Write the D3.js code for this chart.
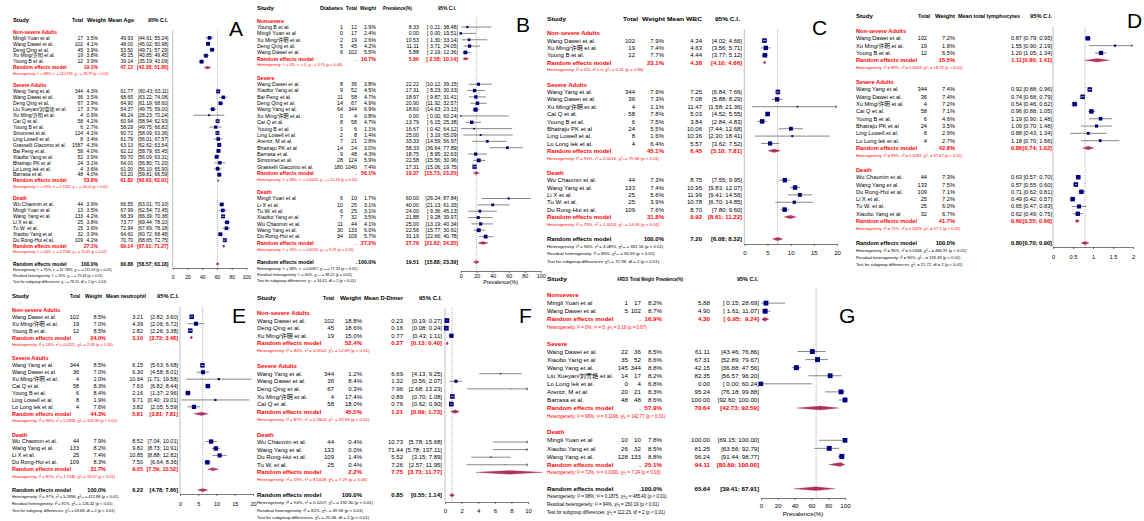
<!DOCTYPE html>
<html>
<head>
<meta charset="utf-8">
<script src="https://cdn.jsdelivr.net/npm/d3@7"></script>
<style>
  body { margin: 0; background: #fff; }
  svg text { font-family: "Liberation Sans", Arial, "Noto Sans CJK SC", sans-serif; white-space: pre; }
</style>
</head>
<body>
<script>
// ---------- A: mean age ----------
const ageHead = ["Study", "Total", "Weight", "Mean Age", "95% C.I."];
const ageGroups = ["Non-severe Adults", "Severe Adults", "Death"];
const ageNonSevere = [
    ["Mingli Yuan et al", 17, 3.5, 49.93, 44.61, 55.24],
    ["Wang Dawei et al.", 102, 4.1, 48.00, 45.02, 50.98],
    ["Deng Qing et al.", 45, 3.9, 53.50, 49.71, 57.29],
    ["Xu Ming/许明 et al.", 19, 3.8, 45.15, 40.85, 49.45],
    ["Young B et al.", 12, 3.9, 39.14, 35.19, 43.09]
];
const ageSevere = [
    ["Wang Yang et al.", 344, 4.3, 61.77, 60.43, 63.11],
    ["Wang Dawei et al.", 36, 3.5, 68.65, 63.22, 74.08],
    ["Deng Qing et al.", 67, 3.9, 64.90, 61.19, 68.60],
    ["Liu Xueyan/刘雪艳 et al.", 17, 3.7, 54.37, 49.75, 59.00],
    ["Xu Ming/许明 et al.", 4, 0.9, 49.24, 28.23, 70.24],
    ["Cai Q et al.", 58, 4.2, 60.94, 58.94, 62.93],
    ["Young B et al.", 6, 2.7, 58.29, 49.75, 66.82],
    ["Simonnet et al.", 124, 4.1, 60.72, 58.09, 63.36],
    ["Ling Lowell et al.", 8, 3.4, 61.79, 56.01, 67.57],
    ["Grasselli Giacomo et al.", 1587, 4.3, 63.13, 62.62, 63.64],
    ["Bai Peng et al.", 58, 4.0, 62.12, 58.79, 65.45],
    ["Xiaobo Yang et al", 52, 3.9, 59.70, 56.09, 63.31],
    ["Bhatraju PK et al", 24, 3.1, 64.00, 56.80, 71.20],
    ["Lo Long lek et al.", 4, 3.6, 61.00, 56.10, 65.90],
    ["Barrasa et al.", 48, 4.0, 63.20, 59.81, 66.59]
];
const ageDeath = [
    ["Wu Chaomin et al.", 44, 3.9, 66.55, 63.01, 70.10],
    ["Mingli Yuan et al", 13, 3.5, 67.99, 62.54, 73.45],
    ["Wang Yang et al.", 133, 4.2, 68.39, 66.39, 70.38],
    ["Li X et al.", 25, 3.8, 73.77, 69.44, 78.10],
    ["Tu W. et al.", 25, 3.6, 72.94, 67.69, 78.18],
    ["Xiaobo Yang et al", 32, 3.9, 64.60, 60.72, 68.48],
    ["Du Rong-Hui et al.", 109, 4.2, 70.70, 68.65, 72.75]
];
const ageRandom = [[19.1, 47.12, 42.38, 51.86], [53.8, 61.82, 60.63, 63.01], [27.1, 69.14, 67.01, 71.27]];
const ageOverall = [100.0, 60.88, 58.57, 63.18];
const ageHet = [
    "Heterogeneity: I² = 88%, τ² = 24.0739, χ²₄ = 28.79 (p < 0.01)",
    "Heterogeneity: I² = 59%, τ² = 2.1432, χ²₁₄ = 34.02 (p < 0.01)",
    "Heterogeneity: I² = 54%, τ² = 4.7548, χ²₆ = 15.65 (p = 0.02)"
];
const ageTests = [
    "Heterogeneity: I² = 95%, τ² = 31.7895, χ²₂₆ = 511.53 (p < 0.01)",
    "Residual heterogeneity: I² = 70%, χ²₂₄ = 79.43 (p < 0.01)",
    "Test for subgroup differences: χ²₂ = 78.74, df = 2 (p < 0.01)"
];
const ageTicks = [0, 20, 40, 60, 80, 100];

// ---------- B: diabetes prevalence ----------
const diabHead = ["Study", "Diabetes", "Total", "Weight", "Prevalence(%)", "95% C.I."];
const diabGroups = ["Nonsevere", "Severe", "Death"];
const diabNonsevere = [
    ["Young B et al.", 1, 12, 1.9, 8.33, 0.21, 38.48],
    ["Mingli Yuan et al", 0, 17, 2.4, 0.00, 0.00, 19.51],
    ["Xu Ming/许明 et al.", 2, 19, 2.6, 10.53, 1.30, 33.14],
    ["Deng Qing et al.", 5, 45, 4.2, 11.11, 3.71, 24.05],
    ["Wang Dawei et al.", 6, 102, 5.5, 5.88, 2.19, 12.36]
];
const diabSevere = [
    ["Wang Dawei et al.", 8, 36, 3.8, 22.22, 10.12, 39.15],
    ["Xiaobo Yang et al", 9, 52, 4.5, 17.31, 8.23, 30.33],
    ["Bai Peng et al.", 11, 58, 4.7, 18.97, 9.87, 31.41],
    ["Deng Qing et al.", 14, 67, 4.9, 20.90, 11.92, 32.57],
    ["Wang Yang et al.", 64, 344, 6.9, 18.60, 14.63, 23.13],
    ["Xu Ming/许明 et al.", 0, 4, 0.8, 0.00, 0.00, 60.24],
    ["Cai Q et al.", 8, 58, 4.7, 13.79, 6.15, 25.38],
    ["Young B et al.", 1, 6, 1.1, 16.67, 0.42, 64.12],
    ["Ling Lowell et al.", 2, 8, 1.4, 25.00, 3.19, 65.09],
    ["Arentz, M et al.", 7, 21, 2.8, 33.33, 14.59, 56.97],
    ["Bhatraju PK et al", 14, 24, 3.0, 58.33, 36.64, 77.89],
    ["Barrasa et al.", 9, 48, 4.3, 18.75, 8.95, 32.63],
    ["Simonnet et al.", 28, 124, 5.9, 22.58, 15.56, 30.96],
    ["Grasselli Giacomo et al.", 180, 1040, 7.4, 17.31, 15.06, 19.75]
];
const diabDeath = [
    ["Mingli Yuan et al", 6, 10, 1.7, 60.00, 26.24, 87.84],
    ["Li X et al.", 10, 25, 3.1, 40.00, 21.13, 61.33],
    ["Tu W. et al.", 6, 25, 3.1, 24.00, 9.36, 45.13],
    ["Xiaobo Yang et al", 7, 32, 3.5, 21.88, 9.28, 39.97],
    ["Wu Chaomin et al.", 11, 44, 4.1, 25.00, 13.19, 40.34],
    ["Wang Yang et al.", 30, 133, 6.0, 22.56, 15.77, 30.61],
    ["Du Rong-Hui et al.", 34, 109, 5.7, 31.19, 22.66, 40.78]
];
const diabRandom = [[16.7, 5.90, 2.58, 10.14], [56.1, 19.37, 15.73, 23.25], [27.2, 27.79, 21.62, 34.35]];
const diabOverall = [100.0, 19.51, 15.88, 23.39];
const diabHet = [
    "Heterogeneity: I² = 0%, τ² = 0, χ²₄ = 3.75 (p = 0.44)",
    "Heterogeneity: I² = 48%, τ² = 0.0024, χ²₁₃ = 25.18 (p = 0.02)",
    "Heterogeneity: I² = 35%, τ² = 0.0026, χ²₆ = 9.29 (p = 0.16)"
];
const diabTests = [
    "Heterogeneity: I² = 68%, τ² = 0.0067, χ²₂₅ = 77.33 (p < 0.01)",
    "Residual heterogeneity: I² = 40%, χ²₂₃ = 38.22 (p = 0.02)",
    "Test for subgroup differences: χ²₂ = 34.41, df = 2 (p < 0.01)"
];
const diabTicks = [0, 20, 40, 60, 80, 100];

// ---------- C: mean WBC ----------
const wbcHead = ["Study", "Total", "Weight", "Mean WBC", "95% C.I."];
const wbcNonSevere = [
    ["Wang Dawei et al.", 102, 7.9, 4.34, 4.02, 4.66],
    ["Xu Ming/许明 et al.", 19, 7.4, 4.63, 3.56, 5.71],
    ["Young B et al.", 12, 7.7, 4.44, 3.77, 5.12]
];
const wbcSevere = [
    ["Wang Yang et al.", 344, 7.9, 7.25, 6.84, 7.66],
    ["Wang Dawei et al.", 36, 7.3, 7.08, 5.88, 8.29],
    ["Xu Ming/许明 et al.", 4, 1.1, 11.47, 1.58, 21.36],
    ["Cai Q et al.", 58, 7.8, 5.03, 4.52, 5.55],
    ["Young B et al.", 6, 7.5, 3.84, 2.84, 4.83],
    ["Bhatraju PK et al", 24, 5.5, 10.06, 7.44, 12.68],
    ["Ling Lowell et al.", 8, 1.6, 10.36, 2.30, 18.41],
    ["Lo Long lek et al.", 4, 6.4, 5.57, 3.62, 7.52]
];
const wbcDeath = [
    ["Wu Chaomin et al.", 44, 7.3, 8.75, 7.55, 9.95],
    ["Wang Yang et al.", 133, 7.4, 10.95, 9.83, 12.07],
    ["Li X et al.", 25, 5.6, 11.99, 9.41, 14.56],
    ["Tu W. et al.", 25, 3.9, 10.78, 6.70, 14.85],
    ["Du Rong-Hui et al.", 109, 7.6, 8.70, 7.80, 9.60]
];
const wbcRandom = [[23.1, 4.38, 4.10, 4.66], [45.1, 6.45, 5.10, 7.81], [31.8, 9.92, 8.61, 11.22]];
const wbcOverall = [100.0, 7.20, 6.08, 8.32];
const wbcHet = [
    "Heterogeneity: I² = 0%, τ² = 0, χ²₂ = 0.31 (p = 0.86)",
    "Heterogeneity: I² = 91%, τ² = 2.5016, χ²₇ = 79.36 (p < 0.01)",
    "Heterogeneity: I² = 73%, τ² = 1.4053, χ²₄ = 14.96 (p < 0.01)"
];
const wbcTests = [
    "Heterogeneity: I² = 96%, τ² = 4.0891, χ²₁₅ = 361.56 (p < 0.01)",
    "Residual heterogeneity: I² = 86%, χ²₁₃ = 94.63 (p < 0.01)",
    "Test for subgroup differences: χ²₂ = 72.98, df = 2 (p < 0.01)"
];
const wbcTicks = [0, 5, 10, 15, 20];

// ---------- D: mean total lymphocytes ----------
const lymHead = ["Study", "Total", "Weight", "Mean total lymphocytes", "95% C.I."];
const lymNonSevere = [
    ["Wang Dawei et al.", 102, 7.2, 0.87, 0.79, 0.95],
    ["Xu Ming/许明 et al.", 19, 1.8, 1.55, 0.90, 2.19],
    ["Young B et al.", 12, 6.5, 1.20, 1.05, 1.34]
];
const lymSevere = [
    ["Wang Yang et al.", 344, 7.4, 0.92, 0.88, 0.96],
    ["Wang Dawei et al.", 36, 7.4, 0.74, 0.68, 0.79],
    ["Xu Ming/许明 et al.", 4, 7.2, 0.54, 0.46, 0.62],
    ["Cai Q et al.", 58, 7.1, 0.96, 0.88, 1.05],
    ["Young B et al.", 6, 4.6, 1.19, 0.90, 1.48],
    ["Bhatraju PK et al", 24, 3.5, 1.09, 0.70, 1.48],
    ["Ling Lowell et al.", 8, 2.9, 0.88, 0.43, 1.34],
    ["Lo Long lek et al.", 4, 2.7, 1.18, 0.70, 1.66]
];
const lymDeath = [
    ["Wu Chaomin et al.", 44, 7.3, 0.63, 0.57, 0.70],
    ["Wang Yang et al.", 133, 7.5, 0.57, 0.55, 0.60],
    ["Du Rong-Hui et al.", 109, 7.1, 0.71, 0.62, 0.81],
    ["Li X et al.", 25, 7.2, 0.49, 0.42, 0.57],
    ["Tu W. et al.", 25, 6.0, 0.65, 0.47, 0.83],
    ["Xiaobo Yang et al", 32, 6.7, 0.62, 0.49, 0.75]
];
const lymRandom = [[15.5, 1.11, 0.80, 1.41], [42.8, 0.88, 0.74, 1.02], [41.7, 0.60, 0.55, 0.66]];
const lymOverall = [100.0, 0.80, 0.70, 0.90];
const lymHet = [
    "Heterogeneity: I² = 89%, τ² = 0.0543, χ²₂ = 18.72 (p < 0.01)",
    "Heterogeneity: I² = 93%, τ² = 0.0281, χ²₇ = 97.67 (p < 0.01)",
    "Heterogeneity: I² = 71%, τ² = 0.0029, χ²₅ = 17.1 (p < 0.01)"
];
const lymTests = [
    "Heterogeneity: I² = 96%, τ² = 0.0348, χ²₁₆ = 486.91 (p < 0.01)",
    "Residual heterogeneity: I² = 90%, χ²₁₄ = 133.49 (p < 0.01)",
    "Test for subgroup differences: χ²₂ = 21.72, df = 2 (p < 0.01)"
];
const lymTicks = [0, 0.5, 1, 1.5, 2];

// ---------- E: mean neutrophil ----------
const neuHead = ["Study", "Total", "Weight", "Mean neutrophil", "95% C.I."];
const neuNonSevere = [
    ["Wang Dawei et al.", 102, 8.5, 3.21, 2.82, 3.60],
    ["Xu Ming/许明 et al.", 19, 7.0, 4.39, 2.06, 6.72],
    ["Young B et al.", 12, 8.5, 2.82, 2.26, 3.38]
];
const neuSevere = [
    ["Wang Yang et al.", 344, 8.5, 6.15, 5.63, 6.68],
    ["Wang Dawei et al.", 36, 7.0, 6.30, 4.58, 8.01],
    ["Xu Ming/许明 et al.", 4, 2.0, 10.64, 1.71, 19.58],
    ["Cai Q et al.", 58, 8.3, 7.63, 6.82, 8.44],
    ["Young B et al.", 6, 8.4, 2.16, 1.37, 2.96],
    ["Ling Lowell et al.", 8, 1.9, 9.71, 0.40, 19.01],
    ["Lo Long lek et al.", 4, 7.6, 3.82, 2.05, 5.59]
];
const neuDeath = [
    ["Wu Chaomin et al.", 44, 7.9, 8.52, 7.04, 10.01],
    ["Wang Yang et al.", 133, 8.2, 9.82, 8.73, 10.91],
    ["Li X et al.", 25, 7.4, 10.85, 8.88, 12.82],
    ["Du Rong-Hui et al.", 109, 8.3, 7.50, 6.64, 8.36]
];
const neuRandom = [[24.0, 3.10, 2.72, 3.48], [44.3, 5.81, 3.81, 7.81], [31.7, 9.05, 7.59, 10.52]];
const neuOverall = [100.0, 6.22, 4.78, 7.66];
const neuHet = [
    "Heterogeneity: I² = 16%, τ² = 0.0221, χ²₂ = 2.39 (p = 0.30)",
    "Heterogeneity: I² = 94%, τ² = 5.2918, χ²₆ = 106.96 (p < 0.01)",
    "Heterogeneity: I² = 81%, τ² = 1.7546, χ²₃ = 16.07 (p < 0.01)"
];
const neuTests = [
    "Heterogeneity: I² = 97%, τ² = 5.2858, χ²₁₃ = 412.88 (p < 0.01)",
    "Residual heterogeneity: I² = 91%, χ²₁₁ = 126.42 (p < 0.01)",
    "Test for subgroup differences: χ²₂ = 63.68, df = 2 (p < 0.01)"
];
const neuTicks = [0, 5, 10, 15, 20];

// ---------- F: mean D-dimer ----------
const ddHead = ["Study", "Total", "Weight", "Mean D-Dimer", "95% C.I."];
const ddNonSevere = [
    ["Wang Dawei et al.", 102, 18.8, 0.23, 0.19, 0.27],
    ["Deng Qing et al.", 45, 18.6, 0.16, 0.08, 0.24],
    ["Xu Ming/许明 et al.", 19, 15.0, 0.77, 0.43, 1.11]
];
const ddSevere = [
    ["Wang Yang et al.", 344, 1.2, 6.69, 4.13, 9.25],
    ["Wang Dawei et al.", 36, 8.4, 1.32, 0.56, 2.07],
    ["Deng Qing et al.", 67, 0.3, 7.96, 2.68, 13.23],
    ["Xu Ming/许明 et al.", 4, 17.4, 0.89, 0.70, 1.08],
    ["Cai Q et al.", 58, 18.0, 0.76, 0.62, 0.90]
];
const ddDeath = [
    ["Wu Chaomin et al.", 44, 0.4, 10.73, 5.78, 15.68],
    ["Wang Yang et al.", 133, 0.0, 71.44, 5.78, 137.11],
    ["Du Rong-Hui et al.", 109, 1.4, 5.52, 3.15, 7.89],
    ["Tu W. et al.", 25, 0.4, 7.26, 2.57, 11.95]
];
const ddRandom = [[52.4, 0.27, 0.13, 0.40], [45.5, 1.21, 0.69, 1.73], [2.2, 7.75, 3.73, 11.77]];
const ddOverall = [100.0, 0.85, 0.55, 1.14];
const ddHet = [
    "Heterogeneity: I² = 84%, τ² = 0.0102, χ²₂ = 12.69 (p < 0.01)",
    "Heterogeneity: I² = 87%, τ² = 0.1804, χ²₄ = 29.96 (p < 0.01)",
    "Heterogeneity: I² = 59%, τ² = 8.5448, χ²₃ = 7.29 (p = 0.06)"
];
const ddTests = [
    "Heterogeneity: I² = 94%, τ² = 0.1207, χ²₁₁ = 192.30 (p < 0.01)",
    "Residual heterogeneity: I² = 82%, χ²₉ = 49.94 (p < 0.01)",
    "Test for subgroup differences: χ²₂ = 25.08, df = 2 (p < 0.01)"
];
const ddTicks = [0, 2, 4, 6, 8, 10];

// ---------- G: ARDS prevalence ----------
const ardsHead = ["Study", "ARDS", "Total", "Weight", "Prevalence(%)", "95% C.I."];
const ardsNonsevere = [
    ["Mingli Yuan et al", 1, 17, 8.2, 5.88, 0.15, 28.69],
    ["Wang Dawei et al.", 5, 102, 8.7, 4.90, 1.61, 11.07]
];
const ardsSevere = [
    ["Wang Dawei et al.", 22, 36, 8.5, 61.11, 43.46, 76.86],
    ["Xiaobo Yang et al", 35, 52, 8.6, 67.31, 52.89, 79.67],
    ["Wang Yang et al.", 145, 344, 8.8, 42.15, 36.88, 47.56],
    ["Liu Xueyan/刘雪艳 et al.", 14, 17, 8.2, 82.35, 56.57, 96.20],
    ["Lo Long lek et al.", 0, 4, 6.8, 0.00, 0.00, 60.24],
    ["Arentz, M et al.", 20, 21, 8.3, 95.24, 76.18, 99.88],
    ["Barrasa et al.", 48, 48, 8.6, 100.00, 92.60, 100.00]
];
const ardsDeath = [
    ["Mingli Yuan et al", 10, 10, 7.8, 100.00, 69.15, 100.00],
    ["Xiaobo Yang et al", 26, 32, 8.5, 81.25, 63.56, 92.79],
    ["Wang Yang et al.", 128, 133, 8.8, 96.24, 91.44, 98.77]
];
const ardsRandom = [[16.9, 4.30, 0.95, 9.24], [57.9, 70.64, 42.73, 92.59], [25.1, 94.11, 80.89, 100.00]];
const ardsOverall = [100.0, 65.64, 39.41, 87.91];
const ardsHet = [
    "Heterogeneity: I² = 0%, τ² = 0, χ²₁ = 0.19 (p = 0.67)",
    "Heterogeneity: I² = 96%, τ² = 0.1196, χ²₆ = 142.77 (p < 0.01)",
    "Heterogeneity: I² = 72%, τ² = 0.0190, χ²₂ = 7.24 (p = 0.03)"
];
const ardsTests = [
    "Heterogeneity: I² = 98%, τ² = 0.1875, χ²₁₁ = 485.40 (p < 0.01)",
    "Residual heterogeneity: I² = 94%, χ²₉ = 150.19 (p < 0.01)",
    "Test for subgroup differences: χ²₂ = 112.23, df = 2 (p < 0.01)"
];
const ardsTicks = [0, 20, 40, 60, 80, 100];

var RED = "#ff0000",
    NAVY = "#00007f",
    MAROON = "#b03060",
    GREY = "#555555";

let svg = d3.select("body").append("svg")
    .attr("width", 1144)
    .attr("height", 521);

// panels: data built from the arrays above, plus where each one sits on the page
var panels = [
    {
        letter: "A", prev: false, head: ageHead, groups: ageGroups,
        studies: [ageNonSevere, ageSevere, ageDeath], random: ageRandom, het: ageHet,
        overall: ageOverall, tests: ageTests, ticks: ageTicks,
        L: { y0: 20, dy: 5.95, fs: 5.0, nameX: 13, cols: [83, 98, 133, 168.5],
             head: [[13, 16], [72, 11], [87, 19], [108, 26], [148, 20]],
             range: [172.7, 246.4], top: 30, axisY: 268, tickY: 277.5, sq: 4, dia: 2.8,
             letterAt: [229, 36], nullLine: true }
    },
    {
        letter: "B", prev: true, head: diabHead, groups: diabGroups,
        studies: [diabNonsevere, diabSevere, diabDeath], random: diabRandom, het: diabHet,
        overall: diabOverall, tests: diabTests, ticks: diabTicks, axisLabel: "Prevalence(%)",
        L: { y0: 8, dy: 6.35, fs: 5.3, nameX: 257, cols: [343, 357, 376, 419, 458],
             head: [[257, 17], [320, 23], [346, 11], [360, 16], [383, 29], [438, 18]],
             range: [460.7, 540.7], top: 17, axisY: 271, tickY: 276.5, labelY: 282.5, sq: 4.3, dia: 3,
             letterAt: [516, 32], nullLine: false }
    },
    {
        letter: "C", prev: false, head: wbcHead, groups: ageGroups,
        studies: [wbcNonSevere, wbcSevere, wbcDeath], random: wbcRandom, het: wbcHet,
        overall: wbcOverall, tests: wbcTests, ticks: wbcTicks,
        L: { y0: 18.5, dy: 7.35, fs: 6.0, nameX: 547, cols: [635, 664, 702, 742],
             head: [[547, 19], [623, 15], [642, 23], [667, 35], [715, 25]],
             range: [744.3, 837], top: 29, axisY: 244, tickY: 253, sq: 4.6, dia: 3.5,
             letterAt: [812, 35], nullLine: true }
    },
    {
        letter: "D", prev: false, head: lymHead, groups: ageGroups,
        studies: [lymNonSevere, lymSevere, lymDeath], random: lymRandom, het: lymHet,
        overall: lymOverall, tests: lymTests, ticks: lymTicks,
        L: { y0: 16.4, dy: 7.31, fs: 5.7, nameX: 856, cols: [927, 955, 1022, 1052],
             head: [[856, 17], [918, 12], [935, 20], [958, 62], [1030, 22]],
             range: [1053, 1133], top: 27, axisY: 247, tickY: 257, sq: 4.6, dia: 3.5,
             letterAt: [1127, 28], nullLine: true }
    },
    {
        letter: "E", prev: false, head: neuHead, groups: ageGroups,
        studies: [neuNonSevere, neuSevere, neuDeath], random: neuRandom, het: neuHet,
        overall: neuOverall, tests: neuTests, ticks: neuTicks,
        L: { y0: 296, dy: 6.93, fs: 5.5, nameX: 12, cols: [79, 106, 143, 178],
             head: [[12, 17], [70, 10], [85, 17], [106, 40], [157, 22]],
             range: [180, 253], top: 307, axisY: 494, tickY: 504, sq: 4.5, dia: 3.2,
             letterAt: [232, 323], nullLine: true }
    },
    {
        letter: "F", prev: false, head: ddHead, groups: ageGroups,
        studies: [ddNonSevere, ddSevere, ddDeath], random: ddRandom, het: ddHet,
        overall: ddOverall, tests: ddTests, ticks: ddTicks,
        L: { y0: 297.8, dy: 7.59, fs: 6.0, nameX: 257, cols: [334, 362, 403, 442],
             head: [[257, 19], [323, 11], [340, 21], [364, 39], [419, 23]],
             range: [445, 528], top: 308, axisY: 502, tickY: 511, sq: 4.8, dia: 3.6,
             letterAt: [519, 323], nullLine: true }
    },
    {
        letter: "G", prev: true, head: ardsHead, groups: diabGroups,
        studies: [ardsNonsevere, ardsSevere, ardsDeath], random: ardsRandom, het: ardsHet,
        overall: ardsOverall, tests: ardsTests, ticks: ardsTicks, axisLabel: "Prevalence(%)",
        L: { y0: 278.9, dy: 8.07, fs: 6.2, nameX: 547, cols: [628, 641, 662, 710, 759],
             head: [[547, 20], [617, 11], [630, 10], [641, 13], [656, 27], [737, 21]],
             range: [761, 845], top: 288, axisY: 498, tickY: 505.5, labelY: 514, sq: 5, dia: 3.8,
             letterAt: [839, 323], nullLine: false }
    }
];

panels.forEach(p => drawForest(p));

function drawForest(d) {
    var L = d.L;
    var g = svg.append("g").attr("class", "forest");
    var fs = L.fs, hs = L.fs * 0.72;
    var rowY = r => L.y0 + r * L.dy;
    var x = d3.scaleLinear().domain(d3.extent(d.ticks)).range(L.range);
    var xmin = x.domain()[0], xmax = x.domain()[1];
    var num = d3.format(".2f");
    var pct = v => d3.format(".1f")(v) + "%";
    var pad = v => (d.prev && v < 10 ? " " : "") + num(v);
    var ci = (lo, hi) => "[" + pad(lo) + "; " + pad(hi) + "]";
    var wIdx = d.prev ? 3 : 2;
    var wmax = d3.max(d.studies.flat(), s => s[wIdx]);

    var lines = g.append("g"), marks = g.append("g");

    function label(xp, yp, s, opt) {
        opt = opt || {};
        return g.append("text")
            .attr("x", xp).attr("y", yp).attr("dy", "0.35em")
            .attr("font-size", opt.size || fs)
            .attr("font-weight", opt.bold ? "bold" : null)
            .attr("fill", opt.color || "#000")
            .attr("text-anchor", opt.anchor || "start")
            .text(s);
    }

    function cells(vals, yp, opt) {
        vals.forEach(function (v, i) {
            if (v !== "") label(L.cols[i], yp, v, Object.assign({ anchor: "end" }, opt));
        });
    }

    function arrow(xe, yp, dir) {
        marks.append("path")
            .attr("d", `M${xe - dir * 2},${yp - 1.3}L${xe},${yp}L${xe - dir * 2},${yp + 1.3}`)
            .attr("fill", "none").attr("stroke", GREY).attr("stroke-width", 0.7);
    }

    function studyMark(w, m, lo, hi, yp) {
        var a = Math.max(lo, xmin), b = Math.min(hi, xmax);
        marks.append("line")
            .attr("x1", x(a)).attr("x2", x(b)).attr("y1", yp).attr("y2", yp)
            .attr("stroke", GREY).attr("stroke-width", 0.7);
        if (hi > xmax) arrow(x(xmax), yp, 1);
        if (lo < xmin) arrow(x(xmin), yp, -1);
        if (m < xmin || m > xmax) return;
        var side = L.sq * Math.sqrt(w / wmax);
        marks.append("rect")
            .attr("x", x(m) - side / 2).attr("y", yp - side / 2)
            .attr("width", side).attr("height", side)
            .attr("fill", NAVY);
        // confidence interval inside the square is drawn in white
        if (x(hi) - x(lo) < side) {
            marks.append("line")
                .attr("x1", x(lo)).attr("x2", x(hi)).attr("y1", yp).attr("y2", yp)
                .attr("stroke", "#fff").attr("stroke-width", 0.6);
        }
    }

    function diamond(m, lo, hi, yp) {
        var h = L.dia / 2;
        marks.append("polygon")
            .attr("points", [[x(lo), yp], [x(m), yp - h], [x(hi), yp], [x(m), yp + h]]
                .map(pt => pt.join(",")).join(" "))
            .attr("fill", MAROON).attr("stroke", MAROON).attr("stroke-width", 0.3);
    }

    // column headers
    d.head.forEach(function (h, i) {
        label(L.head[i][0], rowY(0), h, { bold: true })
            .attr("textLength", L.head[i][1])
            .attr("lengthAdjust", "spacingAndGlyphs");
    });

    // reference lines
    if (L.nullLine) {
        lines.append("line")
            .attr("x1", x(0)).attr("x2", x(0)).attr("y1", L.top).attr("y2", L.axisY)
            .attr("stroke", "#a0a0a0").attr("stroke-width", 0.7);
    }
    lines.append("line")
        .attr("x1", x(d.overall[1])).attr("x2", x(d.overall[1]))
        .attr("y1", L.top).attr("y2", L.axisY)
        .attr("stroke", "#777").attr("stroke-width", 0.6).attr("stroke-dasharray", "1,1");

    var r = 2;
    d.groups.forEach(function (grp, gi) {
        label(L.nameX, rowY(r), grp, { bold: true, color: RED });
        d.studies[gi].forEach(function (s) {
            r++;
            var yp = rowY(r);
            var v = s.slice(wIdx);
            label(L.nameX, yp, s[0]);
            cells(d.prev ? [s[1], s[2], pct(v[0]), num(v[1]), ci(v[2], v[3])]
                         : [s[1], pct(v[0]), num(v[1]), ci(v[2], v[3])], yp);
            studyMark(v[0], v[1], v[2], v[3], yp);
        });
        r++;
        var rm = d.random[gi];
        label(L.nameX, rowY(r), "Random effects model", { bold: true, color: RED });
        cells(d.prev ? ["", ".", pct(rm[0]), num(rm[1]), ci(rm[2], rm[3])]
                     : ["", pct(rm[0]), num(rm[1]), ci(rm[2], rm[3])], rowY(r), { bold: true, color: RED });
        diamond(rm[1], rm[2], rm[3], rowY(r));
        r++;
        label(L.nameX, rowY(r), d.het[gi], { size: hs, color: RED });
        r += 2;
    });

    // overall
    var o = d.overall;
    label(L.nameX, rowY(r), "Random effects model", { bold: true });
    cells(d.prev ? ["", ".", pct(o[0]), num(o[1]), ci(o[2], o[3])]
                 : ["", pct(o[0]), num(o[1]), ci(o[2], o[3])], rowY(r), { bold: true });
    diamond(o[1], o[2], o[3], rowY(r));
    d.tests.forEach(function (t, i) {
        label(L.nameX, rowY(r + 1 + i), t, { size: hs });
    });

    // x axis
    var axis = d3.axisBottom(x)
        .tickValues(d.ticks)
        .tickSize(2)
        .tickSizeOuter(0)
        .tickFormat(d3.format("~g"));
    var ag = g.append("g")
        .attr("transform", "translate(0," + L.axisY + ")")
        .call(axis);
    ag.select(".domain").attr("stroke", "#222").attr("stroke-width", 0.6);
    ag.selectAll(".tick line").attr("stroke", "#222").attr("stroke-width", 0.6);
    ag.selectAll(".tick text")
        .attr("font-size", fs)
        .attr("fill", "#000")
        .attr("y", L.tickY - L.axisY)
        .attr("dy", "0.35em");
    ag.attr("font-family", null);

    if (d.axisLabel) {
        label((L.range[0] + L.range[1]) / 2, L.labelY, d.axisLabel, { anchor: "middle" });
    }

    // panel letter
    svg.append("text")
        .attr("x", L.letterAt[0]).attr("y", L.letterAt[1])
        .attr("font-size", 21)
        .attr("fill", "#000")
        .text(d.letter);
}
</script>
</body>
</html>
